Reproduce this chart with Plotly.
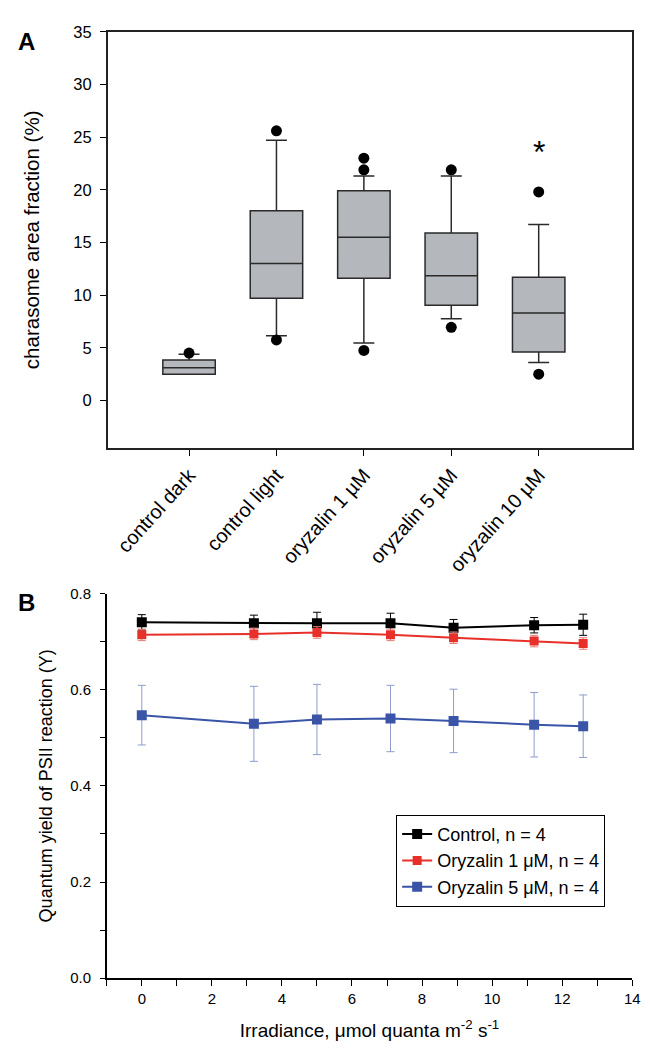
import plotly.graph_objects as go

# ---------------- Panel A data ----------------
categories = ["control dark", "control light", "oryzalin 1 µM", "oryzalin 5 µM", "oryzalin 10 µM"]
cat_pos = [0, 1, 2, 3, 4]
q1 = [2.5, 9.7, 11.6, 9.05, 4.6]
median = [3.1, 13.0, 15.5, 11.85, 8.3]
q3 = [3.85, 18.0, 19.9, 15.9, 11.7]
lowerfence = [2.5, 6.15, 5.45, 7.75, 3.6]
upperfence = [4.4, 24.7, 21.3, 21.3, 16.7]
outlier_x = [0, 1, 1, 2, 2, 2, 3, 3, 4, 4]
outlier_y = [4.5, 25.6, 5.75, 23.0, 21.9, 4.75, 21.9, 6.95, 19.8, 2.5]
star_pos = 4
star_y = 23.6

# ---------------- Panel B data ----------------
irradiance = [0, 3.2, 5.0, 7.1, 8.9, 11.2, 12.6]
control_y = [0.740, 0.738, 0.738, 0.738, 0.729, 0.734, 0.735]
control_err = [0.016, 0.017, 0.023, 0.021, 0.017, 0.016, 0.022]
ory1_y = [0.714, 0.716, 0.719, 0.714, 0.708, 0.701, 0.696]
ory1_err = [0.012, 0.012, 0.012, 0.012, 0.012, 0.012, 0.012]
ory5_y = [0.547, 0.529, 0.538, 0.540, 0.535, 0.527, 0.524]
ory5_err = [0.062, 0.078, 0.073, 0.069, 0.066, 0.067, 0.065]

FONT = "Liberation Sans, Arial, sans-serif"

W, H = 650, 1049


def px(X):
    return X / W


def py(Y):
    return 1 - Y / H


fig = go.Figure()

fig.add_trace(go.Box(
    x=cat_pos, q1=q1, median=median, q3=q3,
    lowerfence=lowerfence, upperfence=upperfence,
    boxpoints=False, width=0.6, whiskerwidth=0.4,
    fillcolor="#b4b7bb", line=dict(color="#2a2a2a", width=1.5),
    showlegend=False, xaxis="x", yaxis="y",
))
fig.add_trace(go.Scatter(
    x=outlier_x, y=outlier_y, mode="markers",
    marker=dict(symbol="circle", size=11, color="black"),
    showlegend=False, xaxis="x", yaxis="y",
))

series = [
    ("Control, n = 4", control_y, control_err, "#000000", "#000000", 10),
    ("Oryzalin 1 μM, n = 4", ory1_y, ory1_err, "#e8302a", "#e87c78", 9),
    ("Oryzalin 5 μM, n = 4", ory5_y, ory5_err, "#3a55a8", "#8e9ccc", 10),
]
for name, ys, errs, col, ecol, ms in series:
    fig.add_trace(go.Scatter(
        x=irradiance, y=ys, mode="lines+markers", name=name,
        line=dict(color=col, width=2),
        marker=dict(symbol="square", size=ms, color=col),
        error_y=dict(type="data", array=errs, visible=True, color=ecol, thickness=1, width=4),
        xaxis="x2", yaxis="y2",
    ))

fig.update_layout(
    width=W, height=H,
    margin=dict(l=0, r=0, t=0, b=0),
    paper_bgcolor="white", plot_bgcolor="white",
    font=dict(family=FONT, color="black", size=16),
    xaxis=dict(
        domain=[px(101), px(632)], anchor="y",
        range=[-0.93, 5.07], tickmode="array", tickvals=cat_pos, ticktext=categories,
        tickangle=-48, ticks="outside", ticklen=6, tickcolor="black",
        showline=True, linecolor="#222", linewidth=1.5, mirror=True,
        showgrid=False, zeroline=False, tickfont=dict(size=20),
    ),
    yaxis=dict(
        domain=[py(438), py(15)], anchor="x",
        range=[-4.5, 35], tickmode="array", tickvals=[0, 5, 10, 15, 20, 25, 30, 35],
        ticks="outside", ticklen=6, tickcolor="black", ticklabelstandoff=5,
        showline=True, linecolor="#222", linewidth=1.5, mirror=True,
        showgrid=False, zeroline=False, tickfont=dict(size=16.5),
        title=dict(text="charasome area fraction (%)", font=dict(size=20.5), standoff=28),
    ),
    xaxis2=dict(
        domain=[px(100), px(632)], anchor="y2",
        range=[-1, 14], tick0=0, dtick=2, ticks="outside", ticklen=6, tickcolor="black",
        minor=dict(dtick=1, ticks="outside", ticklen=6, tickcolor="black"),
        showline=True, linecolor="black", linewidth=1.5,
        showgrid=False, zeroline=False, tickfont=dict(size=15),
        title=dict(text="Irradiance, μmol quanta m<sup>-2</sup> s<sup>-1</sup>", font=dict(size=19), standoff=18),
    ),
    yaxis2=dict(
        domain=[py(977), py(586)], anchor="x2",
        range=[0, 0.8], tick0=0, dtick=0.2, tickformat=".1f",
        ticks="outside", ticklen=5, tickcolor="black", ticklabelstandoff=6,
        minor=dict(dtick=0.1, ticks="outside", ticklen=5, tickcolor="black"),
        showline=True, linecolor="black", linewidth=1.5,
        showgrid=False, zeroline=False, tickfont=dict(size=15),
        title=dict(text="Quantum yield of PSII reaction (Y)", font=dict(size=18), standoff=13),
    ),
    legend=dict(
        x=px(393), y=py(811), xanchor="left", yanchor="top",
        bgcolor="white", bordercolor="black", borderwidth=1,
        font=dict(size=18), tracegroupgap=0, itemwidth=30,
    ),
    annotations=[
        dict(text="<b>A</b>", x=px(8), y=py(25), xref="paper", yref="paper",
             xanchor="left", yanchor="middle", showarrow=False, font=dict(size=24)),
        dict(text="<b>B</b>", x=px(8), y=py(595), xref="paper", yref="paper",
             xanchor="left", yanchor="middle", showarrow=False, font=dict(size=24)),
        dict(text="*", x=star_pos, y=star_y, xref="x", yref="y",
             showarrow=False, font=dict(size=32)),
    ],
)

fig.write_html("out.html")
